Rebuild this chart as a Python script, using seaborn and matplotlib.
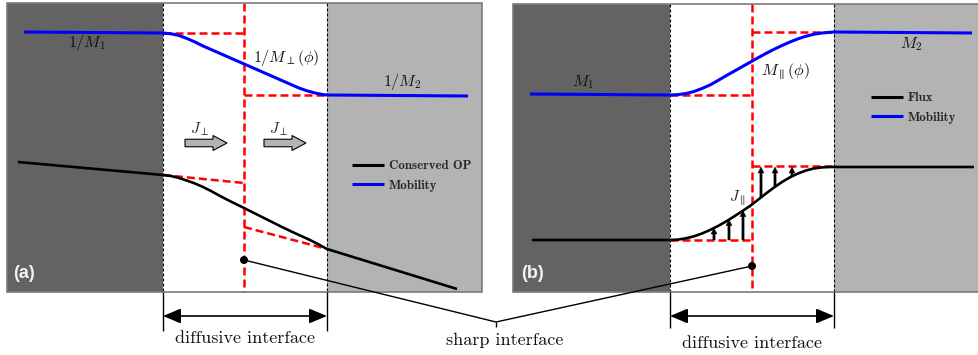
import numpy as np
import matplotlib
matplotlib.use("Agg")
import matplotlib.pyplot as plt
from matplotlib.patches import Rectangle, FancyArrow, Circle
import seaborn as sns

sns.set_theme(style="white")
plt.rcParams["mathtext.fontset"] = "cm"
plt.rcParams["font.family"] = ["DejaVu Sans"]

# ---- layout of the two panels (x in px, y in px from top) ----
panel_a_edges = [7, 163, 327, 482]      # dark | interface | light
panel_b_edges = [513, 670, 834, 979]
panel_top = [3, 4]
panel_bottom = 292
sharp_x = [244, 752]
dark_grey, light_grey = "#636363", "#b3b3b3"

# ---- panel (a): inverse mobility and conserved order parameter ----
a_mob_x = [24, 163, 171, 179, 187, 195, 203, 211, 219, 227, 235, 243, 251, 259, 267,
           275, 283, 291, 299, 307, 315, 323, 327, 468]
a_mob_y = [32, 33, 33.8, 35.5, 38.5, 42, 46, 49.5, 53, 56.5, 60, 63.5, 67, 70.5, 74,
           77.5, 81, 84.5, 88, 90.8, 93, 94.6, 95, 96]
a_op_x = [18, 163, 171, 179, 187, 195, 203, 211, 219, 227, 235, 243, 251, 259, 267,
          275, 283, 291, 299, 307, 315, 323, 327, 457]
a_op_y = [162, 175, 176, 178, 180.6, 183.5, 187, 191, 195.4, 199.6, 203.6, 207.5, 211.5,
          215.5, 219.5, 223.5, 227.5, 231.3, 235, 238.6, 242.5, 246.8, 249, 289]
a_sharp_mob_x = [163, 244, 244, 327]
a_sharp_mob_y = [33, 33, 95, 95]
a_sharp_op_lo_x = [163, 244]
a_sharp_op_lo_y = [175, 183]
a_sharp_op_hi_x = [244, 327]
a_sharp_op_hi_y = [227, 249]
a_flux_arrow_x = [185, 264]
a_flux_arrow_y = 143

# ---- panel (b): mobility and flux ----
b_mob_x = [530, 670, 678, 686, 694, 702, 710, 718, 726, 734, 742, 750, 758, 766, 774,
           782, 790, 798, 806, 814, 822, 830, 834, 972]
b_mob_y = [94, 95, 94.6, 93.5, 91.5, 88.5, 85, 80.5, 75.8, 71.3, 66.8, 62.3, 57.8, 53.4,
           49.3, 45.5, 42, 38.8, 36.2, 34.2, 33, 32.3, 32, 33]
b_flux_x = [532, 670, 678, 686, 694, 702, 710, 718, 726, 734, 742, 750, 758, 766, 774,
            782, 790, 798, 806, 814, 822, 830, 834, 974]
b_flux_y = [240, 240, 239.6, 238.3, 236.3, 233.5, 230, 226, 221.5, 216.5, 211.3, 206,
            199.8, 193.5, 187.5, 182, 177.3, 173.5, 170.5, 168.4, 167.4, 167, 167, 167]
b_sharp_mob_x = [670, 752, 752, 834]
b_sharp_mob_y = [95, 95, 32, 32]
b_sharp_flux_x = [670, 752, 752, 834]
b_sharp_flux_y = [240, 240, 166, 166]
b_arrow_lo_x = [714, 729, 743]   # from sharp level up to the smooth flux
b_arrow_hi_x = [761, 775, 792]   # from the smooth flux up to sharp level

# sharp interface markers
dot_y = [260, 266]
apex = (496, 322)

fig = plt.figure(figsize=(9.79, 3.55), dpi=100)
ax = fig.add_axes([0, 0, 1, 1])
ax.set_xlim(0, 979)
ax.set_ylim(355, 0)
ax.axis("off")

RED = "#ff0000"
red_dash = (0, (3.2, 1.6))
blk_dash = (0, (2.7, 1.8))

def line(x, y, **kw):
    sns.lineplot(x=x, y=y, ax=ax, estimator=None, sort=False, **kw)
    ln = ax.lines[-1]
    ln.set_solid_joinstyle("round")
    ln.set_solid_capstyle("butt")
    return ln

# backgrounds
for edges, top in ((panel_a_edges, panel_top[0]), (panel_b_edges, panel_top[1])):
    h = panel_bottom - top
    ax.add_patch(Rectangle((edges[0], top), edges[1] - edges[0], h, fc=dark_grey, ec="none", zorder=0))
    ax.add_patch(Rectangle((edges[1], top), edges[2] - edges[1], h, fc="white", ec="none", zorder=0))
    ax.add_patch(Rectangle((edges[2], top), edges[3] - edges[2], h, fc=light_grey, ec="none", zorder=0))
    ax.add_patch(Rectangle((edges[0], top), edges[3] - edges[0], h, fc="none", ec="#7a7a7a", lw=1.2, zorder=6))
    for xe in edges[1:3]:
        line([xe, xe], [top, panel_bottom], color="black", lw=0.8, linestyle=blk_dash, zorder=2)

# panel (a)
h_mob_a = line(a_mob_x, a_mob_y, color="#0000ff", lw=2.2, zorder=4)
h_op_a = line(a_op_x, a_op_y, color="black", lw=1.9, zorder=4)
line(a_sharp_mob_x[:2], a_sharp_mob_y[:2], color=RED, lw=1.8, linestyle=red_dash, zorder=3)
line([sharp_x[0], sharp_x[0]], [panel_top[0], panel_bottom], color=RED, lw=1.8, linestyle=red_dash, zorder=3)
line(a_sharp_mob_x[2:], a_sharp_mob_y[2:], color=RED, lw=1.8, linestyle=red_dash, zorder=3)
line(a_sharp_op_lo_x, a_sharp_op_lo_y, color=RED, lw=1.8, linestyle=red_dash, zorder=3)
line(a_sharp_op_hi_x, a_sharp_op_hi_y, color=RED, lw=1.8, linestyle=red_dash, zorder=3)

for xa in a_flux_arrow_x:
    ax.add_patch(FancyArrow(xa, a_flux_arrow_y, 42, 0, width=7.5, head_width=15, head_length=14,
                            length_includes_head=True, fc="#b4b4b4", ec="black", lw=0.8, zorder=5))
    ax.text(xa + 15, a_flux_arrow_y - 14, r"$J_\perp$", fontsize=11, ha="center", va="center", zorder=5)

mtxt = dict(fontsize=11.5, ha="center", va="center", color="#111111", zorder=5)
ax.text(87, 43, r"$1/M_1$", **mtxt)
ax.text(286, 58, r"$1/M_\perp(\phi)$", **mtxt)
ax.text(402, 82, r"$1/M_2$", **mtxt)

# panel (b)
h_mob_b = line(b_mob_x, b_mob_y, color="#0000ff", lw=2.2, zorder=4)
h_flux_b = line(b_flux_x, b_flux_y, color="black", lw=1.9, zorder=4)
line(b_sharp_mob_x[:2], b_sharp_mob_y[:2], color=RED, lw=1.8, linestyle=red_dash, zorder=3)
line([sharp_x[1], sharp_x[1]], [panel_top[1], panel_bottom], color=RED, lw=1.8, linestyle=red_dash, zorder=3)
line(b_sharp_mob_x[2:], b_sharp_mob_y[2:], color=RED, lw=1.8, linestyle=red_dash, zorder=3)
line(b_sharp_flux_x[:2], b_sharp_flux_y[:2], color=RED, lw=1.8, linestyle=red_dash, zorder=3)
line(b_sharp_flux_x[2:], b_sharp_flux_y[2:], color=RED, lw=1.8, linestyle=red_dash, zorder=3)

flux_lo = b_sharp_flux_y[0]
flux_hi = b_sharp_flux_y[2]
for xa in b_arrow_lo_x:
    yc = np.interp(xa, b_flux_x, b_flux_y)
    ax.add_patch(FancyArrow(xa, flux_lo, 0, yc - flux_lo, width=2.2, head_width=6, head_length=6,
                            length_includes_head=True, fc="black", ec="black", lw=0.3, zorder=5))
for xa in b_arrow_hi_x:
    yc = np.interp(xa, b_flux_x, b_flux_y)
    ax.add_patch(FancyArrow(xa, yc, 0, flux_hi + 1 - yc, width=2.2, head_width=6, head_length=6,
                            length_includes_head=True, fc="black", ec="black", lw=0.3, zorder=5))

ax.text(583, 82, r"$M_1$", **mtxt)
ax.text(785, 71, r"$M_\parallel(\phi)$", **mtxt)
ax.text(911, 44, r"$M_2$", **mtxt)
ax.text(737, 198, r"$J_\parallel$", fontsize=11, ha="center", va="center", zorder=5)

# panel letters
for xl, yl, s in ((24, 274, "(a)"), (533, 273, "(b)")):
    ax.text(xl, yl, s, fontsize=13, fontweight="bold", family="Liberation Sans",
            color="#f2f2f2", ha="center", va="center", zorder=7)

# legends
leg_kw = dict(frameon=False, borderpad=0, borderaxespad=0, handlelength=2.45, handletextpad=0.4,
              labelspacing=0.6, bbox_transform=ax.transData, loc="upper left",
              prop={"family": "cmb10", "size": 9.3})
leg_a = ax.legend([h_op_a, h_mob_a], ["Conserved OP", "Mobility"], bbox_to_anchor=(352, 160), **leg_kw)
for lh in leg_a.get_lines():
    lh.set_linewidth(2.2)
ax.add_artist(leg_a)
leg_b = ax.legend([h_flux_b, h_mob_b], ["Flux", "Mobility"], bbox_to_anchor=(871, 92), **leg_kw)
for lh in leg_b.get_lines():
    lh.set_linewidth(2.2)

# sharp interface pointer
for xs, yd in zip(sharp_x, dot_y):
    ax.add_patch(Circle((xs, yd), 4, fc="black", ec="none", zorder=8))
    line([xs, apex[0]], [yd, apex[1]], color="black", lw=1.0, zorder=8)
line([apex[0], apex[0]], [apex[1], apex[1] + 5], color="black", lw=1.0, zorder=8)

# diffusive interface width markers
bottom_ends = [331, 328]
arrow_y = 316
for edges, yb in zip((panel_a_edges, panel_b_edges), bottom_ends):
    for xe in edges[1:3]:
        line([xe, xe], [panel_bottom, yb], color="black", lw=1.0, zorder=8)
    ax.annotate("", xy=(edges[2], arrow_y), xytext=(edges[1], arrow_y),
                arrowprops=dict(arrowstyle="<|-|>,head_length=0.6,head_width=0.25",
                                mutation_scale=18, color="black", lw=1.2,
                                shrinkA=0, shrinkB=0), zorder=8)

btxt = dict(family="cmr10", fontsize=13, ha="center", va="center", color="#111111")
ax.text(245, 338, "diffusive interface", **btxt)
ax.text(752, 343, "diffusive interface", **btxt)
ax.text(505, 340, "sharp interface", **btxt)

fig.savefig("out.png", dpi=100)
